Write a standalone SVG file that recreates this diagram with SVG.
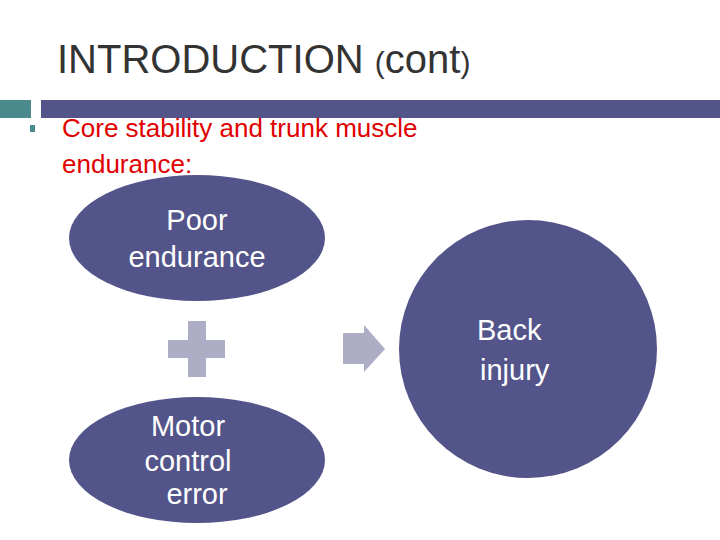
<svg xmlns="http://www.w3.org/2000/svg" width="720" height="540" viewBox="0 0 720 540">
<style>
.n{fill:#53548a}
.t{font-family:"Liberation Sans",Arial,sans-serif;fill:#fff;font-size:29px}
.g{fill:#aeadc6}
</style>
<rect width="720" height="540" fill="#fff"/>
<text x="57" y="73" font-family="Liberation Sans,Arial,sans-serif" font-size="40" fill="#333">INTRODUCTION <tspan font-size="30">(</tspan>cont<tspan font-size="30">)</tspan></text>
<rect x="0" y="100" width="31" height="18" fill="#4b8a8c"/>
<rect x="41" y="100" width="679" height="18" class="n"/>
<rect x="30" y="125" width="5" height="7" fill="#4b8a8c"/>
<text font-family="Liberation Sans,Arial,sans-serif" font-size="26" fill="#e00000"><tspan x="62" y="137">Core stability and trunk muscle</tspan><tspan x="62" y="173">endurance:</tspan></text>
<g id="connectors">
<path class="g" d="M188 321h18v19h19v18h-19v19h-18v-19h-20v-18h20z"/>
<path class="g" d="M343 333h21v-8l21 24-21 23v-8h-21z"/>
</g>
<g id="poor"><ellipse cx="197" cy="238" rx="128" ry="63" class="n"/>
<text class="t" text-anchor="middle"><tspan x="197" y="230">Poor</tspan><tspan x="197" y="267">endurance</tspan></text></g>
<g id="motor"><ellipse cx="197" cy="460" rx="128" ry="63" class="n"/>
<text class="t" text-anchor="middle"><tspan x="188" y="436">Motor</tspan><tspan x="188" y="471">control</tspan><tspan x="197" y="504">error</tspan></text></g>
<g id="back"><circle cx="528" cy="349" r="129" class="n"/>
<text class="t" font-size="31"><tspan x="477" y="340">Back</tspan><tspan x="480" y="380">injury</tspan></text></g>
</svg>
